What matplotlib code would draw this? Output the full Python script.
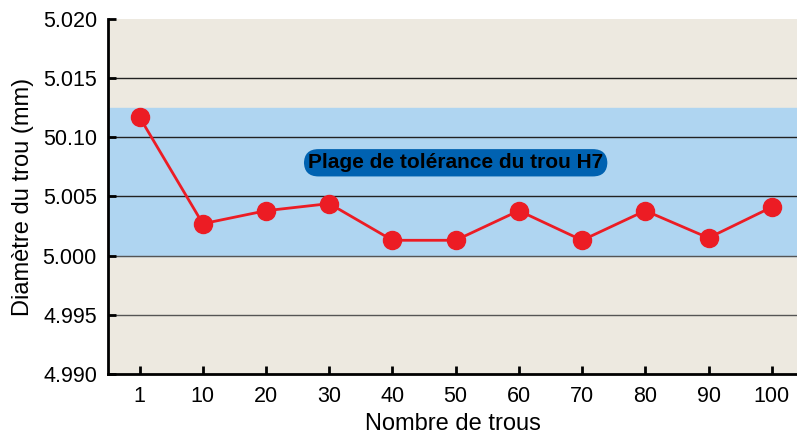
import matplotlib
matplotlib.use('Agg')
import matplotlib.pyplot as plt

# data
holes = ['1', '10', '20', '30', '40', '50', '60', '70', '80', '90', '100']
diameters = [5.0117, 5.0027, 5.0038, 5.0044, 5.0013, 5.0013,
             5.0038, 5.0013, 5.0038, 5.0015, 5.0041]
y_ticks = [4.990, 4.995, 5.000, 5.005, 5.010, 5.015, 5.020]
y_tick_labels = ['4.990', '4.995', '5.000', '5.005', '50.10', '5.015', '5.020']
tol_low, tol_high = 5.000, 5.0125
tol_label = 'Plage de tolérance du trou H7'

plt.rcParams['font.family'] = ['Liberation Sans', 'DejaVu Sans']

fig = plt.figure(figsize=(7.97, 4.37), dpi=100)
ax = fig.add_axes([108 / 797, 1 - 374 / 437, 1 - 108 / 797, 355 / 437])
ax.set_facecolor('#ede9e0')

x = list(range(len(holes)))
ax.axhspan(tol_low, tol_high, color='#afd5f1', zorder=0)
for y in y_ticks[1:-1]:
    ax.axhline(y, color='#222222' if y > 5.0 else '#555555', lw=1, zorder=1)

ax.plot(x, diameters, color='#ec1c24', lw=2, marker='o', markersize=13,
        zorder=3, clip_on=False)

ax.text(5, 5.00785, tol_label, ha='center', va='center', fontsize=15,
        fontweight='bold', color='black', zorder=4,
        bbox=dict(boxstyle='round,pad=0.2,rounding_size=0.7',
                  fc='#0062b1', ec='none'))

ax.set_xlim(-0.5, 10.4)
ax.set_ylim(4.990, 5.020)
ax.set_xticks(x)
ax.set_xticklabels(holes)
ax.set_yticks(y_ticks)
ax.set_yticklabels(y_tick_labels)
ax.tick_params(direction='in', length=6, width=2, labelsize=15.5, pad=8, colors='black')
ax.tick_params(axis='x', pad=9)

for side in ['top', 'right']:
    ax.spines[side].set_visible(False)
for side in ['left', 'bottom']:
    ax.spines[side].set_linewidth(2)

ax.set_xlabel('Nombre de trous', fontsize=17, labelpad=4)
ax.set_ylabel('Diamètre du trou (mm)', fontsize=17, labelpad=6)

fig.savefig('out.png', dpi=100)
